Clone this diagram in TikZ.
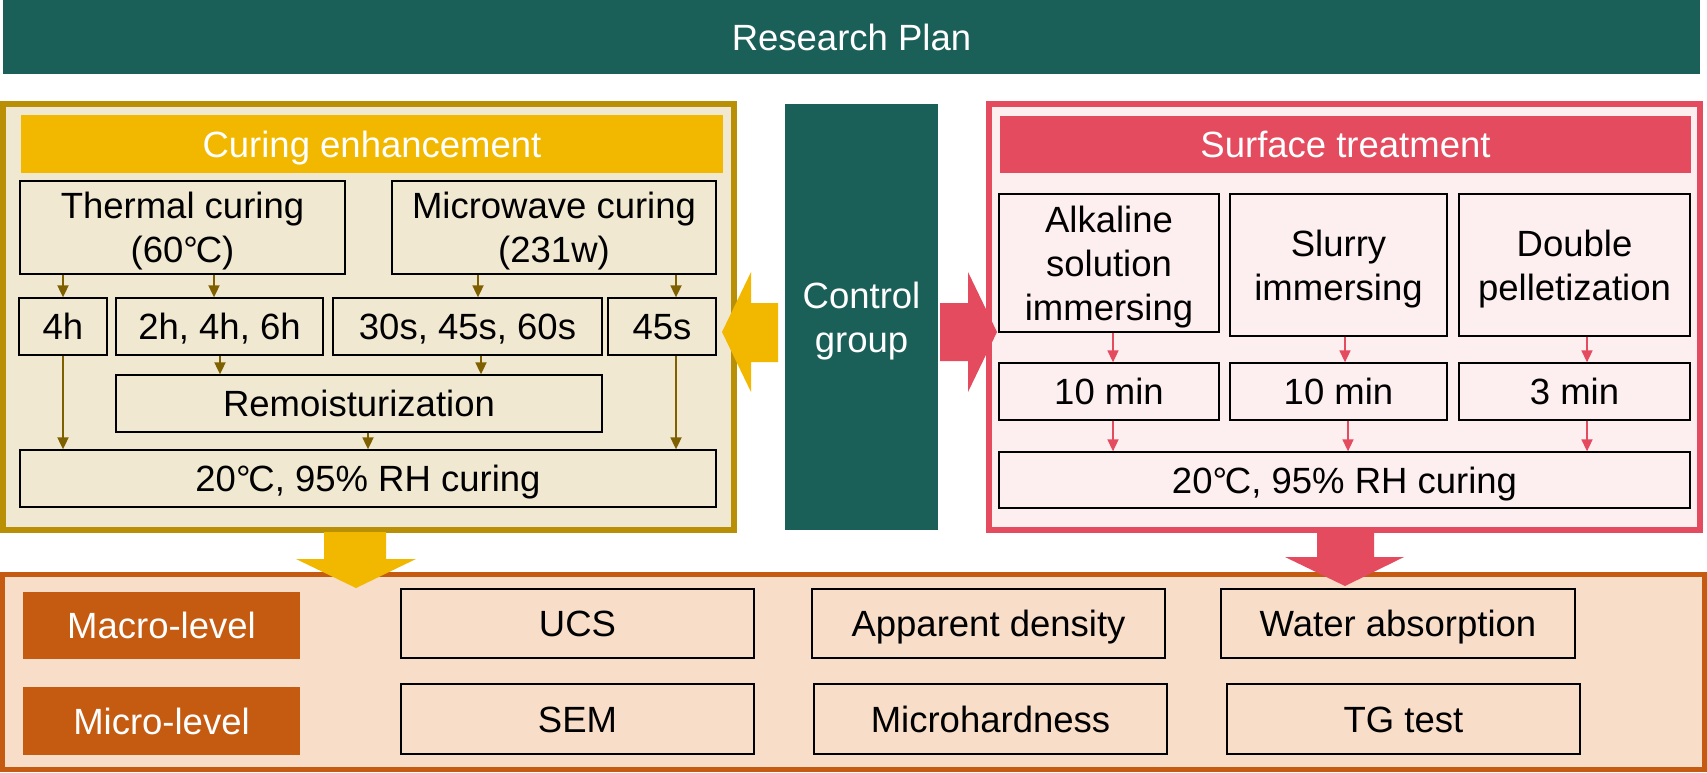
\documentclass[tikz,border=0pt]{standalone}
\usepackage{fontspec}
\setmainfont{Liberation Sans}
\usetikzlibrary{arrows.meta,calc}
\definecolor{rpteal}{RGB}{26,96,89}
\definecolor{rpgold}{RGB}{185,143,5}
\definecolor{rpbeige}{RGB}{241,232,209}
\definecolor{rpyellow}{RGB}{242,184,0}
\definecolor{rpolive}{RGB}{127,96,0}
\definecolor{rpred}{RGB}{229,75,94}
\definecolor{rppink}{RGB}{253,238,240}
\definecolor{rporange}{RGB}{197,90,17}
\definecolor{rppeach}{RGB}{248,221,200}
\newcommand\rpfs{\fontsize{36.5}{44}\selectfont}
\tikzset{
  onebox/.style={draw=black, line width=1.3pt, inner sep=0pt, font=\rpfs,
    text height=26.1pt, text depth=0pt},
  multibox/.style={draw=black, line width=1.3pt, inner sep=0pt},
  multitext/.style={font=\rpfs, align=center, inner sep=0pt},
  header/.style={inner sep=0pt, font=\rpfs, text=white, text height=26.1pt, text depth=0pt},
  arrL/.style={-{Triangle[length=12pt,width=11pt]}, line width=1.8pt, draw=rpolive},
  arrR/.style={-{Triangle[length=12pt,width=11pt]}, line width=1.6pt, draw=rpred},
}
\begin{document}
\begin{tikzpicture}[x=1pt,y=-1pt]
\useasboundingbox (0,0) rectangle (1707,772);

% top banner
\node[fill=rpteal, minimum width=1697pt, minimum height=74pt, inner sep=0pt,
      font=\rpfs, text=white, text height=26.1pt, text depth=0pt] (plan) at (851.5,37) {Research Plan};

% containers
\node[draw=rpgold, fill=rpbeige, line width=6pt, minimum width=731pt, minimum height=426.5pt, inner sep=0pt] (leftpanel) at (368.5,316.75) {};
\node[draw=rpred, fill=rppink, line width=6pt, minimum width=711pt, minimum height=426.5pt, inner sep=0pt] (rightpanel) at (1344.5,316.75) {};
\node[draw=rporange, fill=rppeach, line width=5.5pt, minimum width=1702pt, minimum height=195pt, inner sep=0pt] (bottompanel) at (853.5,672) {};

% control group
\node[fill=rpteal, minimum width=153pt, minimum height=426pt, inner sep=0pt] (control) at (861.5,317) {};
\node[multitext, text=white] (controltxt) at (861.5,320.85) {Control\\group};

% ---------- left: curing enhancement
\node[header, fill=rpyellow, minimum width=702pt, minimum height=58pt] (lhead) at (372,144) {Curing enhancement};

\node[multibox, minimum width=325pt, minimum height=93pt] (thermal) at (182.5,227.5) {};
\node[multitext] (thermaltxt) at (182.5,231.35) {Thermal curing\\(60°\kern-0.06em C)};
\node[multibox, minimum width=324pt, minimum height=93pt] (micro) at (554,227.5) {};
\node[multitext] (microtxt) at (554,231.35) {Microwave curing\\(231w)};

\node[onebox, minimum width=88pt, minimum height=57pt] (hfour) at (63,326.5) {4h};
\node[onebox, minimum width=207pt, minimum height=57pt] (hset) at (219.5,326.5) {2h, 4h, 6h};
\node[onebox, minimum width=269pt, minimum height=57pt] (sset) at (467.5,326.5) {30s, 45s, 60s};
\node[onebox, minimum width=108pt, minimum height=57pt] (sfour) at (662,326.5) {45s};

\node[onebox, minimum width=486pt, minimum height=57pt] (remoist) at (359,403.5) {Remoisturization};
\node[onebox, minimum width=696pt, minimum height=57pt] (curl) at (368,478.5) {20°\kern-0.06em C, 95\% RH curing};

\draw[arrL] (thermal.south -| hfour.north) -- (hfour.north);
\draw[arrL] ($(thermal.south -| hset.north)+(-5.5,0)$) -- ($(hset.north)+(-5.5,0)$);
\draw[arrL] ($(micro.south -| sset.north)+(10.5,0)$) -- ($(sset.north)+(10.5,0)$);
\draw[arrL] ($(micro.south -| sfour.north)+(14,0)$) -- ($(sfour.north)+(14,0)$);
\draw[arrL] ($(hset.south)+(0.5,0)$) -- ($(remoist.north -| hset.south)+(0.5,0)$);
\draw[arrL] ($(sset.south)+(13.5,0)$) -- ($(remoist.north -| sset.south)+(13.5,0)$);
\draw[arrL] (hfour.south) -- (curl.north -| hfour.south);
\draw[arrL] ($(remoist.south)+(9,0)$) -- ($(curl.north -| remoist.south)+(9,0)$);
\draw[arrL] ($(sfour.south)+(14,0)$) -- ($(curl.north -| sfour.south)+(14,0)$);

% ---------- right: surface treatment
\node[header, fill=rpred, minimum width=691pt, minimum height=57pt] (rhead) at (1345.5,144.5) {Surface treatment};

\node[multibox, fill=rppink, minimum width=220pt, minimum height=138pt] (alk) at (1109,263) {};
\node[multitext] (alktxt) at (1109,266.85) {Alkaline\\solution\\immersing};
\node[multibox, fill=rppink, minimum width=217pt, minimum height=142pt] (slur) at (1338.5,265) {};
\node[multitext] (slurtxt) at (1338.5,268.85) {Slurry\\immersing};
\node[multibox, fill=rppink, minimum width=231pt, minimum height=142pt] (dbl) at (1574.5,265) {};
\node[multitext] (dbltxt) at (1574.5,268.85) {Double\\pelletization};

\node[onebox, fill=rppink, minimum width=220pt, minimum height=57pt] (mone) at (1109,391.5) {10 min};
\node[onebox, fill=rppink, minimum width=217pt, minimum height=57pt] (mtwo) at (1338.5,391.5) {10 min};
\node[onebox, fill=rppink, minimum width=231pt, minimum height=57pt] (mthree) at (1574.5,391.5) {3 min};
\node[onebox, fill=rppink, minimum width=691pt, minimum height=56pt] (curr) at (1344.5,480) {20°\kern-0.06em C, 95\% RH curing};

\draw[arrR] ($(alk.south)+(4,0)$) -- ($(mone.north)+(4,0)$);
\draw[arrR] ($(slur.south)+(6.5,0)$) -- ($(mtwo.north)+(6.5,0)$);
\draw[arrR] ($(dbl.south)+(12.5,0)$) -- ($(mthree.north)+(12.5,0)$);
\draw[arrR] ($(mone.south)+(4,0)$) -- ($(curr.north -| mone.south)+(4,0)$);
\draw[arrR] ($(mtwo.south)+(9.5,0)$) -- ($(curr.north -| mtwo.south)+(9.5,0)$);
\draw[arrR] ($(mthree.south)+(12.5,0)$) -- ($(curr.north -| mthree.south)+(12.5,0)$);

% ---------- bottom: evaluation
\node[header, fill=rporange, minimum width=277pt, minimum height=67pt] (macro) at (161.5,625.5) {Macro-level};
\node[header, fill=rporange, minimum width=277pt, minimum height=68pt] (microl) at (161.5,721) {Micro-level};

\node[onebox, minimum width=353pt, minimum height=69pt] (ucs) at (577.5,623.5) {UCS};
\node[onebox, minimum width=353pt, minimum height=69pt] (appd) at (988.5,623.5) {Apparent density};
\node[onebox, minimum width=354pt, minimum height=69pt] (water) at (1398,623.5) {Water absorption};
\node[onebox, minimum width=353pt, minimum height=70pt] (sem) at (577.5,719) {SEM};
\node[onebox, minimum width=353pt, minimum height=70pt] (hard) at (990.5,719) {Microhardness};
\node[onebox, minimum width=353pt, minimum height=70pt] (tg) at (1403.5,719) {TG test};

% ---------- block arrows
\fill[rpyellow] (778,303) -- (751,303) -- (751,272) -- (722,332) -- (751,392) -- (751,362) -- (778,362) -- cycle;
\fill[rpred] (940,303) -- (968,303) -- (968,272) -- (997,332) -- (968,392) -- (968,361) -- (940,361) -- cycle;
\fill[rpyellow] (324,532) -- (386,532) -- (386,559) -- (416,559) -- (356,588) -- (296,559) -- (324,559) -- cycle;
\fill[rpred] (1317,533) -- (1374,533) -- (1374,557) -- (1404,557) -- (1345,586) -- (1285,557) -- (1317,557) -- cycle;
\end{tikzpicture}
\end{document}
